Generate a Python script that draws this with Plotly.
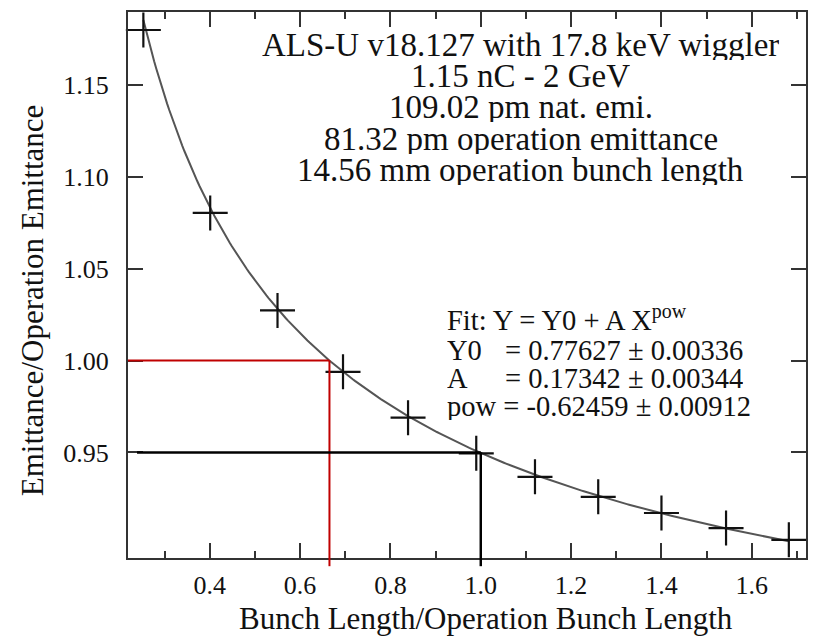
import numpy as np
import plotly.graph_objects as go

# ---- data ----
bunch_ratio = [0.253, 0.401, 0.550, 0.695, 0.839, 0.990, 1.120, 1.260, 1.400, 1.543, 1.682]
emit_ratio = [1.180, 1.0804, 1.0273, 0.9939, 0.9689, 0.9495, 0.9367, 0.9258, 0.9170, 0.9088, 0.9024]

fit_Y0 = 0.77627
fit_A = 0.17342
fit_pow = -0.62459
x_at_one = 0.665   # bunch length ratio where emittance ratio = 1.00
x_ref = 1.0
y_ref = 0.95
y_one = 1.00

x_ticks = [0.4, 0.6, 0.8, 1.0, 1.2, 1.4, 1.6]
y_ticks = [0.95, 1.00, 1.05, 1.10, 1.15]

info_lines = ["ALS-U v18.127 with 17.8 keV wiggler", "1.15 nC - 2 GeV", "109.02 pm nat. emi.",
              "81.32 pm operation emittance", "14.56 mm operation bunch length"]
x_title = "Bunch Length/Operation Bunch Length"
y_title = "Emittance/Operation Emittance"

XR = [0.219, 1.72]
YR = [0.8925, 1.1898]

# plot-area pixel geometry
W, H = 817, 641
L, R, T, B = 128, 808, 12, 558

def px(xp):
    return (xp - L) / (R - L)

def py(yp):
    return (B - yp) / (B - T)

FONT = "Liberation Serif"
INK = "#111111"

fig = go.Figure()

# fit curve
xf = np.linspace(bunch_ratio[0], bunch_ratio[-1], 300)
yf = fit_Y0 + fit_A * xf ** fit_pow
fig.add_trace(go.Scatter(x=xf, y=yf, mode="lines", line=dict(color="#555555", width=2),
                         hoverinfo="skip", showlegend=False))

# data points
fig.add_trace(go.Scatter(x=bunch_ratio, y=emit_ratio, mode="markers",
                         marker=dict(symbol="cross-thin", size=25, line=dict(color=INK, width=2.2)),
                         cliponaxis=False, showlegend=False))

def yfrac(v):
    return (v - YR[0]) / (YR[1] - YR[0])

ext = -0.015
# red lines
fig.add_shape(type="line", xref="x", yref="y", x0=XR[0], x1=x_at_one, y0=y_one, y1=y_one,
              line=dict(color="#c00000", width=2))
fig.add_shape(type="line", xref="x", yref="paper", x0=x_at_one, x1=x_at_one, y0=yfrac(y_one), y1=ext,
              line=dict(color="#c00000", width=2))
# black lines
fig.add_shape(type="line", xref="x", yref="y", x0=XR[0] + 0.02, x1=x_ref, y0=y_ref, y1=y_ref,
              line=dict(color="#000000", width=2.5))
fig.add_shape(type="line", xref="x", yref="paper", x0=x_ref, x1=x_ref, y0=yfrac(y_ref), y1=ext,
              line=dict(color="#000000", width=2.5))

# info text
info_y = [45, 76, 107, 139, 170]
for t, yy in zip(info_lines, info_y):
    fig.add_annotation(text=t, xref="paper", yref="paper", x=px(522), y=py(yy),
                       xanchor="center", yanchor="middle", showarrow=False, height=30,
                       font=dict(family=FONT, size=33, color=INK))

# fit text
fs = 28.5
fig.add_annotation(text="Fit: Y = Y0 + A X<sup>pow</sup>", xref="paper", yref="paper",
                   x=px(446), y=py(318), xanchor="left", yanchor="middle", showarrow=False, height=28,
                   font=dict(family=FONT, size=fs, color=INK))
for lab, val, yy in [("Y0", "= 0.77627 ± 0.00336", 350), ("A", "= 0.17342 ± 0.00344", 378)]:
    fig.add_annotation(text=lab, xref="paper", yref="paper", x=px(446), y=py(yy),
                       xanchor="left", yanchor="middle", showarrow=False, height=27,
                       font=dict(family=FONT, size=fs, color=INK))
    fig.add_annotation(text=val, xref="paper", yref="paper", x=px(504), y=py(yy),
                       xanchor="left", yanchor="middle", showarrow=False, height=27,
                       font=dict(family=FONT, size=fs, color=INK))
fig.add_annotation(text="pow = -0.62459 ± 0.00912", xref="paper", yref="paper", x=px(446), y=py(406),
                   xanchor="left", yanchor="middle", showarrow=False, height=27,
                   font=dict(family=FONT, size=fs, color=INK))

# axis titles
fig.add_annotation(text=x_title, xref="paper", yref="paper", x=px(487), y=py(618),
                   xanchor="center", yanchor="middle", showarrow=False,
                   font=dict(family=FONT, size=31, color=INK))
fig.add_annotation(text=y_title, xref="paper", yref="paper", x=px(32), y=py(300),
                   xanchor="center", yanchor="middle", showarrow=False, textangle=-90,
                   font=dict(family=FONT, size=31, color=INK))

axis_common = dict(showline=True, linecolor="#333333", linewidth=2, mirror="allticks",
                   ticks="inside", ticklen=15, tickwidth=2, tickcolor="#333333",
                   showgrid=False, zeroline=False,
                   tickfont=dict(family=FONT, size=26, color=INK))

fig.update_xaxes(range=XR, tickvals=x_ticks, ticktext=[f"{v:.1f}" for v in x_ticks],
                 minor=dict(dtick=0.1, tick0=0, ticklen=7, tickwidth=2, ticks="inside", tickcolor="#333333"),
                 ticklabelstandoff=3, **axis_common)
fig.update_yaxes(range=YR, tickvals=y_ticks, ticktext=[f"{v:.2f}" for v in y_ticks],
                 ticklabelstandoff=12, **axis_common)

fig.update_layout(width=W, height=H, margin=dict(l=L, r=W - R, t=T, b=H - B),
                  font=dict(family=FONT),
                  paper_bgcolor="white", plot_bgcolor="white", showlegend=False)

fig.write_html("out.html")
